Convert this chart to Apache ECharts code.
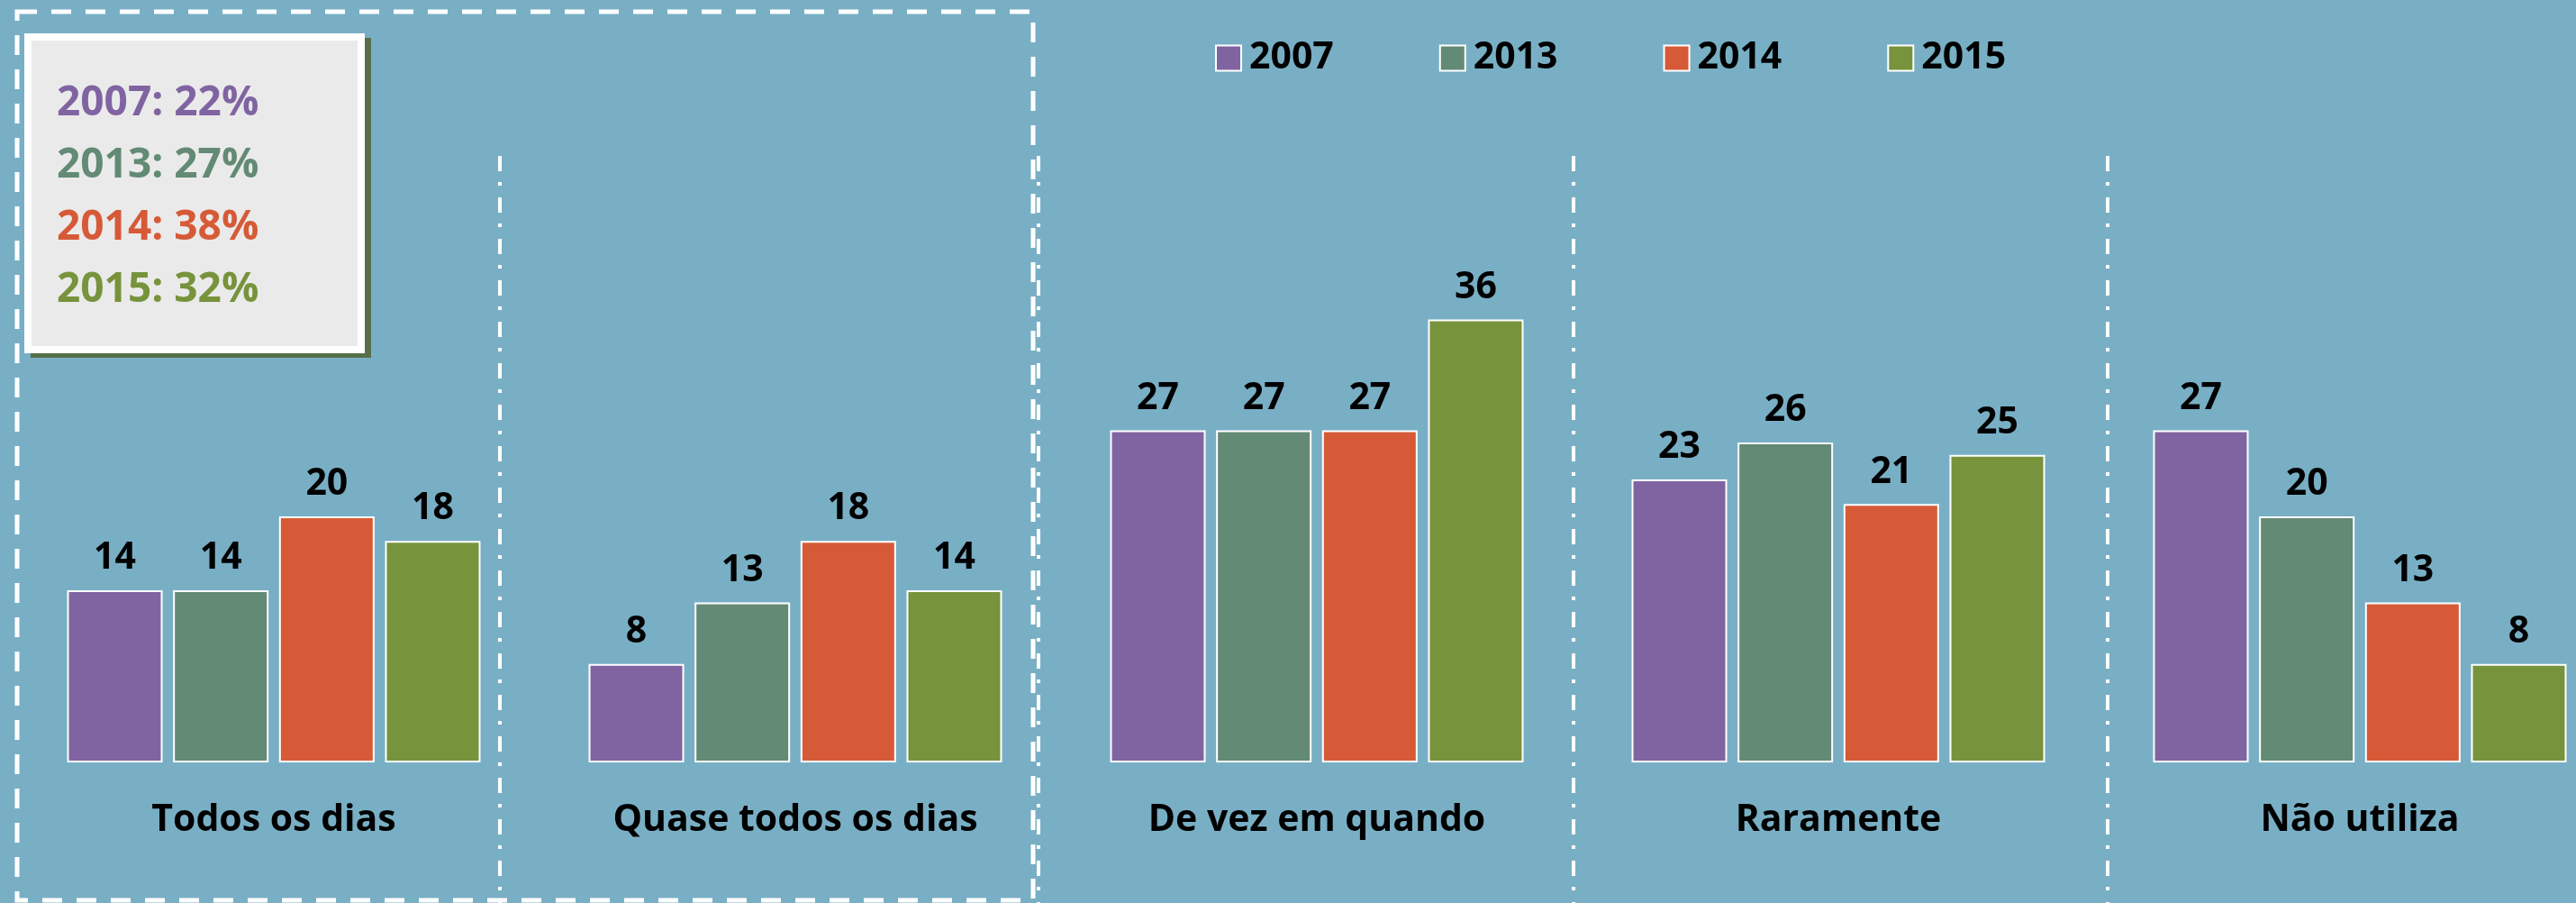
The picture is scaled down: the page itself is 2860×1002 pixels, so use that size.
<!DOCTYPE html>
<html>
<head>
<meta charset="utf-8">
<title>Frequência de utilização</title>
<script src="https://cdn.jsdelivr.net/npm/echarts@6/dist/echarts.min.js"></script>
<style>
  html, body { margin: 0; padding: 0; background: #79afc5; }
  #chart { width: 2860px; height: 1002px; }
</style>
</head>
<body>
<div id="chart"></div>
<script>
// categorias e séries
const categories = ['Todos os dias', 'Quase todos os dias', 'De vez em quando', 'Raramente', 'Não utiliza'];
const years = ['2007', '2013', '2014', '2015'];
const v2007 = [14, 8, 27, 23, 27];
const v2013 = [14, 13, 27, 26, 20];
const v2014 = [20, 18, 27, 21, 13];
const v2015 = [18, 14, 36, 25, 8];
// caixa: todos os dias + quase todos os dias
const totalShare = [22, 27, 38, 32];

const colors = ['#8064a2', '#638a74', '#d65a37', '#77933c'];
const font = '"Open Sans", "DejaVu Sans", sans-serif';

const chart = echarts.init(document.getElementById('chart'));

const seriesData = [v2007, v2013, v2014, v2015];
const series = years.map((y, i) => ({
  name: y,
  type: 'bar',
  data: seriesData[i],
  barWidth: 106,
  barGap: '11%',
  itemStyle: {color: colors[i], borderColor: '#fff', borderWidth: 2},
  label: {
    show: true,
    position: 'top',
    distance: 15,
    color: '#000',
    fontFamily: font,
    fontWeight: 'bold',
    fontSize: 41
  },
  emphasis: {disabled: true}
}));

// separadores traço-ponto
const sepX = [555, 1153, 1747, 2340];
const graphics = sepX.map(x => ({
  type: 'line',
  shape: {x1: x, y1: 173, x2: x, y2: 1002},
  style: {stroke: '#fff', lineWidth: 4, lineDash: [17, 12, 4, 13]},
  silent: true
}));

// caixa tracejada
graphics.push({
  type: 'rect',
  shape: {x: 19, y: 13, width: 1128, height: 986},
  style: {fill: 'none', stroke: '#fff', lineWidth: 5, lineDash: [22, 16]},
  silent: true
});

// caixa com totais
graphics.push({
  type: 'rect',
  shape: {x: 34, y: 42, width: 378, height: 355},
  style: {fill: '#566f4a'},
  silent: true
});
graphics.push({
  type: 'rect',
  shape: {x: 31, y: 41, width: 370, height: 347},
  style: {fill: '#eaeaea', stroke: '#fff', lineWidth: 8},
  silent: true
});
years.forEach((y, i) => {
  graphics.push({
    type: 'text',
    x: 63,
    y: 115 + i * 69,
    style: {
      text: y + ': ' + totalShare[i] + '%',
      fill: colors[i],
      font: 'bold 46px ' + font,
      textVerticalAlign: 'middle'
    },
    silent: true
  });
});

chart.setOption({
  backgroundColor: '#79afc5',
  animation: false,
  legend: {
    data: years,
    left: 1344,
    top: 39,
    itemWidth: 28,
    itemHeight: 28,
    itemGap: 117,
    icon: 'rect',
    textStyle: {
      color: '#000',
      fontFamily: font,
      fontWeight: 'bold',
      fontSize: 41,
      lineHeight: 41,
      padding: [0, 0, 0, 4]
    }
  },
  grid: {
    left: 14.5,
    right: -49.5,
    top: 163.5,
    bottom: 156,
    outerBoundsMode: 'none',
    containLabel: false
  },
  xAxis: {
    type: 'category',
    data: categories,
    axisLine: {show: false},
    axisTick: {show: false},
    axisLabel: {
      margin: 44,
      color: '#000',
      fontFamily: font,
      fontWeight: 'bold',
      fontSize: 41,
      interval: 0
    }
  },
  yAxis: {
    type: 'value',
    min: 0,
    max: 50,
    show: false,
    splitLine: {show: false}
  },
  series: series,
  graphic: graphics
});
</script>
</body>
</html>
